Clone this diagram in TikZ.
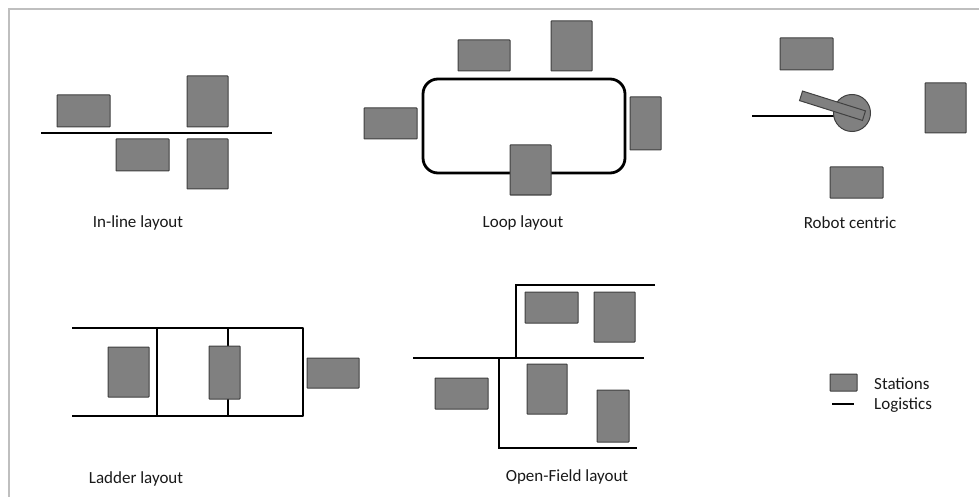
\documentclass[tikz,border=0pt]{standalone}
\usepackage{fontspec}
\setmainfont{Carlito}
\begin{document}
\begin{tikzpicture}[x=1pt,y=-1pt,
  station/.style={draw=black!75, fill=black!50, line width=1pt, inner sep=0pt, rounded corners=0.6pt},
  logi/.style={draw=black, line width=2.8pt},
  lbl/.style={anchor=base, font=\fontsize{17}{20}\selectfont, text=black!90, inner sep=0pt},
  frame/.style={draw=black!25, line width=1.3pt}]
\useasboundingbox (0,0) rectangle (979,497);
\draw[frame] (979,9) -- (9,9) -- (9,497);

% In-line layout
\coordinate (il1) at (41,133);
\coordinate (il2) at (272,133);
\draw[logi] (il1) -- (il2);
\node[station, minimum width=53pt, minimum height=32pt] (ila) at (83.5,111) {};
\node[station, minimum width=41pt, minimum height=51pt] (ilb) at (207.5,101.5) {};
\node[station, minimum width=53pt, minimum height=32pt] (ilc) at (142.5,155) {};
\node[station, minimum width=41pt, minimum height=50pt] (ild) at (207.5,164) {};
\node[lbl] (ilt) at (138,227) {In-line layout};

% Loop layout
\draw[logi, rounded corners=15pt] (423,79) rectangle (625,173);
\node[station, minimum width=52pt, minimum height=31pt] (lpa) at (484,55.5) {};
\node[station, minimum width=41pt, minimum height=50pt] (lpb) at (571.5,46) {};
\node[station, minimum width=53pt, minimum height=31pt] (lpc) at (390.5,123.5) {};
\node[station, minimum width=41pt, minimum height=50pt] (lpd) at (530.5,170) {};
\node[station, minimum width=31pt, minimum height=53pt] (lpe) at (645.5,123.5) {};
\node[lbl] (lpt) at (523,227) {Loop layout};

% Robot centric
\coordinate (rb1) at (752,116);
\coordinate (rb2) at (840,116);
\draw[line width=2.4pt, draw=black] (rb1) -- (rb2);
\node[station, circle, minimum size=37pt] (rbc) at (852,113) {};
\node[station, rounded corners=0pt, minimum width=66pt, minimum height=10pt, rotate=-17.5] (rbarm) at (832.5,105.75) {};
\node[station, minimum width=53pt, minimum height=32pt] (rba) at (806.5,54) {};
\node[station, minimum width=41pt, minimum height=50pt] (rbb) at (945.5,108) {};
\node[station, minimum width=53pt, minimum height=31pt] (rbd) at (856.5,182.5) {};
\node[lbl] (rbt) at (850,228) {Robot centric};

% Ladder layout
\coordinate (ld1) at (72,328);
\coordinate (ld2) at (303,328);
\coordinate (ld3) at (303,416);
\coordinate (ld4) at (72,416);
\coordinate (ld5) at (157,328);
\coordinate (ld6) at (157,416);
\coordinate (ld7) at (228,328);
\coordinate (ld8) at (228,416);
\draw[logi, line join=round] (ld1) -- (ld2) -- (ld3) -- (ld4);
\draw[logi] (ld5) -- (ld6);
\draw[logi] (ld7) -- (ld8);
\node[station, minimum width=41pt, minimum height=50pt] (lda) at (128.5,372) {};
\node[station, minimum width=31pt, minimum height=53pt] (ldb) at (224.5,372.5) {};
\node[station, minimum width=52pt, minimum height=30pt] (ldc) at (333,373) {};
\node[lbl] (ldt) at (136,483) {Ladder layout};

% Open-Field layout
\coordinate (of1) at (655,285);
\coordinate (of2) at (516,285);
\coordinate (of3) at (516,358);
\coordinate (of4) at (413,358);
\coordinate (of5) at (644,358);
\coordinate (of6) at (499,358);
\coordinate (of7) at (499,448);
\coordinate (of8) at (637,448);
\draw[logi] (of1) -- (of2) -- (of3);
\draw[logi] (of4) -- (of5);
\draw[logi] (of6) -- (of7) -- (of8);
\node[station, minimum width=53pt, minimum height=31pt] (ofa) at (551.5,307.5) {};
\node[station, minimum width=41pt, minimum height=50pt] (ofb) at (614.5,317) {};
\node[station, minimum width=53pt, minimum height=31pt] (ofc) at (461.5,393.5) {};
\node[station, minimum width=40pt, minimum height=50pt] (ofd) at (547,389) {};
\node[station, minimum width=32pt, minimum height=52pt] (ofe) at (613,416) {};
\node[lbl] (oft) at (567,481) {Open-Field layout};

% Legend
\node[station, minimum width=27pt, minimum height=17pt] (lgs) at (843.5,382.5) {};
\coordinate (lg1) at (832,404);
\coordinate (lg2) at (854,404);
\draw[logi] (lg1) -- (lg2);
\node[lbl, anchor=base west] (lgt1) at (874,389) {Stations};
\node[lbl, anchor=base west] (lgt2) at (874,409) {Logistics};
\end{tikzpicture}
\end{document}
